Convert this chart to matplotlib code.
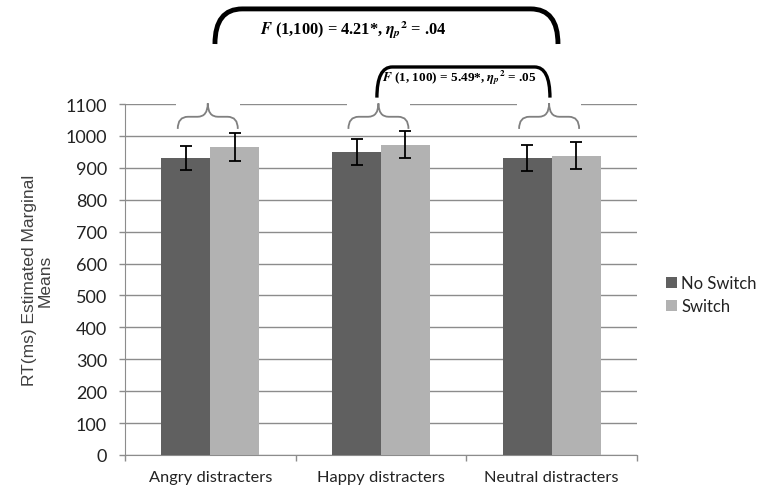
import numpy as np
import matplotlib
matplotlib.use("Agg")
import matplotlib.pyplot as plt
from matplotlib.path import Path
from matplotlib.patches import PathPatch, Rectangle, Patch

plt.rcParams["mathtext.fontset"] = "stix"

# ---- data ----
categories = ["Angry distracters", "Happy distracters", "Neutral distracters"]
no_switch = [930, 950, 930]
switch = [965, 973, 938]
no_switch_err = [37, 40, 40]
switch_err = [45, 43, 43]
series_names = ["No Switch", "Switch"]
yticks = list(range(0, 1101, 100))

C_DARK = "#606060"
C_LIGHT = "#b2b2b2"
C_GRID = "#8c8c8c"
TICK_FONT = "Lato"

fig = plt.figure(figsize=(7.6, 4.89), dpi=100)
ax = fig.add_axes([125/760, 1-456/489, (637-125)/760, (456-105)/489])

x = np.arange(len(categories))
w = 0.287
ax.bar(x - w/2, no_switch, w, color=C_DARK, zorder=3)
ax.bar(x + w/2, switch, w, color=C_LIGHT, zorder=3)
ax.errorbar(x - w/2, no_switch, yerr=no_switch_err, fmt="none", ecolor="black",
            elinewidth=1.3, capsize=4.5, capthick=1.3, zorder=4)
ax.errorbar(x + w/2, switch, yerr=switch_err, fmt="none", ecolor="black",
            elinewidth=1.3, capsize=4.5, capthick=1.3, zorder=4)

ax.set_xlim(-0.5, len(categories) - 0.5)
ax.set_ylim(0, 1100)
ax.set_yticks(yticks)
ax.set_yticklabels([str(t) for t in yticks], fontfamily=TICK_FONT, fontsize=13,
                   color="#222222")
ax.set_xticks(x)
ax.set_xticklabels(categories, fontfamily=TICK_FONT, fontsize=11.8, color="#222222")
ax.set_xticks(np.arange(-0.5, len(categories)), minor=True)
ax.tick_params(axis="x", which="major", length=0, pad=11)
ax.tick_params(axis="x", which="minor", length=4, color=C_GRID, width=1)
ax.tick_params(axis="y", length=4, color=C_GRID, width=1, pad=9)
ax.grid(axis="y", color=C_GRID, lw=1, zorder=0)
ax.set_axisbelow(True)
for s in ["top", "right"]:
    ax.spines[s].set_visible(False)
for s in ["left", "bottom"]:
    ax.spines[s].set_color(C_GRID)
ax.set_ylabel("RT(ms) Estimated Marginal\nMeans", fontfamily="Liberation Sans",
              fontsize=12.5, color="#404040", linespacing=1.05, labelpad=9)

# ---- curly braces over each category ----
def brace(c, half=0.176, rx=0.06, yb=1022, ym=1060, yt=1102):
    x0, x1 = c - half, c + half
    ax.add_patch(Rectangle((x0 - 0.01, yb), x1 - x0 + 0.02, yt + 10 - yb,
                           facecolor="white", edgecolor="none", zorder=1,
                           clip_on=False))
    verts = [(x0, yb), (x0, ym), (x0 + rx, ym), (c - rx, ym), (c, ym), (c, yt),
             (c, ym), (c + rx, ym), (x1 - rx, ym), (x1, ym), (x1, yb)]
    codes = [Path.MOVETO, Path.CURVE3, Path.CURVE3, Path.LINETO, Path.CURVE3,
             Path.CURVE3, Path.CURVE3, Path.CURVE3, Path.LINETO, Path.CURVE3,
             Path.CURVE3]
    ax.add_patch(PathPatch(Path(verts, codes), facecolor="none", edgecolor="#808080",
                           lw=1.3, zorder=2, clip_on=False))

for c in x:
    brace(c - 0.015)

# ---- significance brackets ----
def bracket(xl, xr, yb, yt, rx, lw):
    verts = [(xl, yb), (xl, yt), (xl + rx, yt), (xr - rx, yt), (xr, yt), (xr, yb)]
    codes = [Path.MOVETO, Path.CURVE3, Path.CURVE3, Path.LINETO, Path.CURVE3,
             Path.CURVE3]
    ax.add_patch(PathPatch(Path(verts, codes), facecolor="none", edgecolor="black",
                           lw=lw, zorder=5, clip_on=False, capstyle="butt"))

bracket(0.027, 2.037, 1288, 1398, 0.16, 3.5)
bracket(0.976, 1.99, 1120, 1216, 0.09, 2.4)

ax.text(0.84, 1335, r"$\mathbfit{F}$ (1,100) = 4.21*, $\mathbfit{\eta}_{\mathbfit{p}}{}^{\mathbf{2}}$ = .04",
        fontfamily="Liberation Serif", fontweight="bold", fontsize=11.8,
        ha="center", va="center", clip_on=False)
ax.text(1.46, 1185, r"$\mathbfit{F}$ (1, 100) = 5.49*, $\mathbfit{\eta}_{\mathbfit{p}}{}^{\mathbf{2}}$ = .05",
        fontfamily="Liberation Serif", fontweight="bold", fontsize=9.5,
        ha="center", va="center", clip_on=False)

# ---- legend ----
handles = [Patch(facecolor=C_DARK), Patch(facecolor=C_LIGHT)]
fig.legend(handles, series_names, loc="upper left", bbox_to_anchor=(666/760, 1-276/489),
           frameon=False, prop={"family": TICK_FONT, "size": 12}, handlelength=0.65,
           handleheight=0.65, handletextpad=0.25, labelspacing=0.45, borderpad=0,
           borderaxespad=0, labelcolor="#222222")

fig.savefig("out.png", dpi=100)
